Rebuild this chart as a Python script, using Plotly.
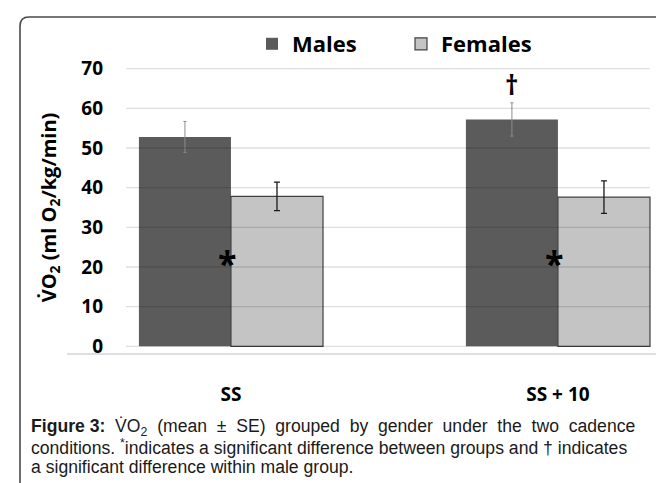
import plotly.graph_objects as go

# ---- data ----
categories = ["SS", "SS + 10"]
males = [52.8, 57.2]
males_se = [3.9, 4.2]
females = [37.8, 37.6]
females_se = [3.6, 4.1]
y_ticks = [0, 10, 20, 30, 40, 50, 60, 70]
series_names = ["Males", "Females"]

W_FIG, H_FIG = 664, 483
L, R, T, B = 118, 14, 53, 137
PW = W_FIG - L - R
PH = H_FIG - T - B

def xp(px):
    return (px - L) / PW

def yp(py):
    return (T + PH - py) / PH

BOLD = "Open Sans"

fig = go.Figure()
fig.add_trace(go.Bar(
    name=series_names[0], x=categories, y=males,
    marker=dict(color="#5b5b5b", line=dict(color="#5b5b5b", width=0)),
    error_y=dict(type="data", array=males_se, visible=True,
                 color="#8c8c8c", thickness=1, width=1.5),
))
fig.add_trace(go.Bar(
    name=series_names[1], x=categories, y=females,
    marker=dict(color="#c4c4c4", line=dict(color="#404040", width=1.2)),
    error_y=dict(type="data", array=females_se, visible=True,
                 color="#1a1a1a", thickness=1.3, width=3),
))

shapes = []
# gridlines drawn over bars (as in reference)
for t in y_ticks:
    shapes.append(dict(type="line", xref="paper", yref="y",
                       x0=0, x1=xp(642), y0=t, y1=t, layer="above",
                       line=dict(color="rgba(0,0,0,0.13)", width=1.3)))
# x axis baseline
shapes.append(dict(type="line", xref="paper", yref="paper",
                   x0=xp(59), x1=xp(650), y0=0, y1=0, layer="below",
                   line=dict(color="#d4d4d4", width=1.5)))
# rounded frame
x_l, y_t, x_r, y_b, r = 12, 9, 672, 489, 9
path = (f"M {xp(x_r)},{yp(y_t)} L {xp(x_l + r)},{yp(y_t)} "
        f"Q {xp(x_l)},{yp(y_t)} {xp(x_l)},{yp(y_t + r)} "
        f"L {xp(x_l)},{yp(y_b - r)} "
        f"Q {xp(x_l)},{yp(y_b)} {xp(x_l + r)},{yp(y_b)} "
        f"L {xp(x_r)},{yp(y_b)}")
shapes.append(dict(type="path", xref="paper", yref="paper", path=path,
                   line=dict(color="#4a4a4a", width=1.6)))

annotations = []
# significance markers
for c in categories:
    annotations.append(dict(x=c, y=22, xref="x", yref="y", text="*",
                            showarrow=False, xshift=-3, yshift=-4,
                            font=dict(family=BOLD, size=34, color="#000", weight="bold")))
annotations.append(dict(x=categories[1], y=max(males) + max(males_se), xref="x", yref="y",
                        text="†", showarrow=False, xshift=-46, yanchor="bottom", yshift=-2,
                        font=dict(family=BOLD, size=26, color="#000", weight="bold")))

# caption
NB = "\u00a0"
line1 = ("<b>Figure 3:</b>" + NB + " V\u0307O<sub>2</sub>" + NB + " (mean" + NB + " ±" + NB + " SE)"
         + NB + " grouped" + NB + " by" + NB + " gender" + NB + " under" + NB + " the"
         + NB + " two" + NB + " cadence")
line2 = "conditions. <sup>*</sup>indicates a significant difference between groups and † indicates"
line3 = "a significant difference within male group."
for txt, py in [(line1, 419), (line2, 439), (line3, 459)]:
    annotations.append(dict(x=xp(21), y=yp(py), xref="paper", yref="paper",
                            xanchor="left", yanchor="middle", showarrow=False, text=txt,
                            font=dict(family="Liberation Sans, Arial", size=17.6, color="#1a1a1a")))

fig.update_layout(
    width=W_FIG, height=H_FIG,
    margin=dict(l=L, r=R, t=T, b=B, autoexpand=False),
    paper_bgcolor="white", plot_bgcolor="white",
    barmode="group", bargap=0.437, bargroupgap=0,
    showlegend=True,
    legend=dict(orientation="h", x=xp(244), xanchor="left", y=yp(36), yanchor="middle",
                entrywidth=104, entrywidthmode="pixels",
                font=dict(family=BOLD, size=22, color="#000", weight="bold"),
                bgcolor="rgba(0,0,0,0)"),
    xaxis=dict(type="category", range=[-0.321, 1.306], showgrid=False, showline=False,
               ticks="", ticklabelstandoff=27,
               tickfont=dict(family=BOLD, size=19, color="#000", weight="bold")),
    yaxis=dict(range=[-1.94, 71.94], tickvals=y_ticks, showgrid=False, zeroline=False,
               showline=False, ticks="", ticklabelstandoff=22,
               tickfont=dict(family=BOLD, size=19, color="#000", weight="bold"),
               title=dict(text="V\u0307O<sub>2</sub> (ml O<sub>2</sub>/kg/min)", standoff=19,
                          font=dict(family=BOLD, size=20, color="#000", weight="bold"))),
    shapes=shapes, annotations=annotations,
)

fig.write_html("out.html")
